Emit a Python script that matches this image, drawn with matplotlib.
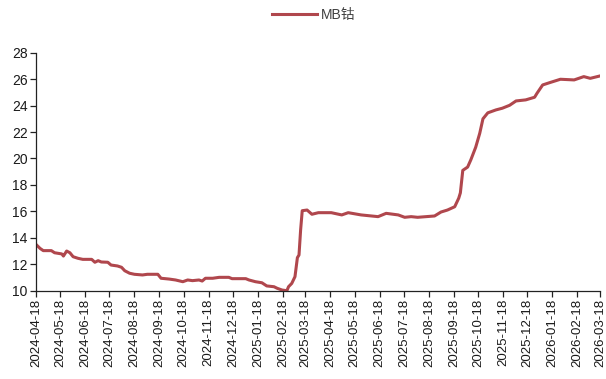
import numpy as np
import pandas as pd
import matplotlib
matplotlib.use('Agg')
import matplotlib.pyplot as plt
import matplotlib.dates as mdates

plt.rcParams['font.family'] = ['Liberation Sans', 'Noto Sans CJK SC', 'DejaVu Sans']

series_name = 'MB钴'

dates = [
    '2024-04-18', '2024-04-23', '2024-04-27', '2024-05-07', '2024-05-11', '2024-05-20',
    '2024-05-22', '2024-05-26', '2024-05-30', '2024-06-03', '2024-06-09', '2024-06-15',
    '2024-06-26', '2024-06-30', '2024-07-04', '2024-07-08', '2024-07-16', '2024-07-20',
    '2024-07-28', '2024-08-02', '2024-08-06', '2024-08-12', '2024-08-18', '2024-08-28',
    '2024-09-03', '2024-09-16', '2024-09-20', '2024-09-30', '2024-10-08', '2024-10-17',
    '2024-10-23', '2024-10-29', '2024-11-06', '2024-11-10', '2024-11-14', '2024-11-23',
    '2024-12-01', '2024-12-13', '2024-12-17', '2025-01-03', '2025-01-07', '2025-01-15',
    '2025-01-23', '2025-01-29', '2025-02-07', '2025-02-11', '2025-02-17', '2025-02-23',
    '2025-02-25', '2025-03-01', '2025-03-05', '2025-03-08', '2025-03-10', '2025-03-12',
    '2025-03-14', '2025-03-20', '2025-03-26', '2025-04-03', '2025-04-19', '2025-05-02',
    '2025-05-10', '2025-05-26', '2025-06-16', '2025-06-26', '2025-07-11', '2025-07-19',
    '2025-07-27', '2025-08-04', '2025-08-25', '2025-09-02', '2025-09-10', '2025-09-19',
    '2025-09-24', '2025-09-26', '2025-09-29', '2025-10-05', '2025-10-09', '2025-10-15',
    '2025-10-20', '2025-10-24', '2025-10-30', '2025-11-09', '2025-11-17', '2025-11-26',
    '2025-12-04', '2025-12-16', '2025-12-27', '2025-12-30', '2026-01-06', '2026-01-15',
    '2026-01-28', '2026-02-14', '2026-02-26', '2026-03-06', '2026-03-18',
]
values = [
    13.50, 13.20, 13.03, 13.03, 12.87, 12.78,
    12.62, 13.00, 12.87, 12.57, 12.45, 12.37,
    12.37, 12.15, 12.27, 12.17, 12.15, 11.94,
    11.87, 11.77, 11.51, 11.32, 11.24, 11.19,
    11.24, 11.24, 10.94, 10.88, 10.81, 10.68,
    10.81, 10.76, 10.81, 10.73, 10.94, 10.94,
    11.01, 11.01, 10.91, 10.91, 10.81, 10.68,
    10.60, 10.36, 10.30, 10.18, 10.05, 10.00,
    10.30, 10.55, 11.06, 12.50, 12.70, 14.60,
    16.05, 16.10, 15.78, 15.90, 15.90, 15.73,
    15.90, 15.73, 15.60, 15.85, 15.73, 15.55,
    15.60, 15.55, 15.65, 15.95, 16.10, 16.35,
    17.00, 17.40, 19.10, 19.35, 19.90, 20.85,
    21.90, 23.00, 23.45, 23.67, 23.80, 24.02,
    24.35, 24.43, 24.63, 24.93, 25.56, 25.74,
    25.99, 25.94, 26.19, 26.06, 26.24,
]
tick_dates = pd.date_range('2024-04-01', '2026-03-01', freq='MS') + pd.Timedelta(days=17)
y_ticks = list(range(10, 29, 2))

x = pd.to_datetime(dates)

fig = plt.figure(figsize=(6.06, 3.79), dpi=100)
ax = fig.add_axes([0.0594, 0.233, 0.9306, 0.628])

line, = ax.plot(x, values, color='#B0474D', linewidth=2.2, label=series_name,
                solid_joinstyle='round')

ax.set_xlim(pd.Timestamp('2024-04-18'), pd.Timestamp('2026-03-18'))
ax.set_ylim(10, 28)
ax.set_yticks(y_ticks)
ax.set_xticks(tick_dates)
ax.xaxis.set_major_formatter(mdates.DateFormatter('%Y-%m-%d'))
plt.setp(ax.get_xticklabels(), rotation=90)

for s in ['top', 'right']:
    ax.spines[s].set_visible(False)
for s in ['left', 'bottom']:
    ax.spines[s].set_color('#222222')
    ax.spines[s].set_linewidth(0.9)
ax.tick_params(axis='both', direction='out', length=4, width=0.9, color='#222222',
               labelcolor='#1a1a1a', pad=2)
ax.tick_params(axis='y', labelsize=10)
ax.tick_params(axis='x', labelsize=9.5)

fig.legend(handles=[line], loc='upper center', bbox_to_anchor=(0.518, 1.012),
           frameon=False, fontsize=10, handlelength=3.2, handletextpad=0.3,
           labelcolor='#404040')

fig.savefig('out.png', dpi=100)
